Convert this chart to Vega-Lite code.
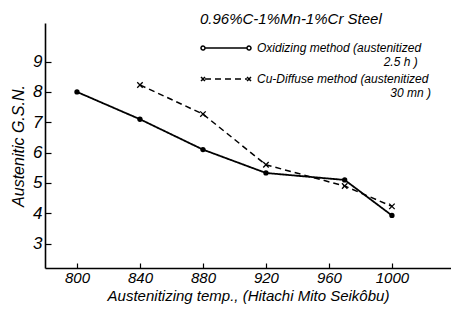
{
  "$schema": "https://vega.github.io/schema/vega-lite/v6.json",
  "width": 406,
  "height": 245,
  "autosize": {"type": "none"},
  "padding": {"left": 45, "top": 23, "right": 0, "bottom": 53},
  "background": "white",
  "config": {
    "view": {"stroke": null},
    "font": "Liberation Sans",
    "axis": {"grid": false, "domainColor": "black", "domainWidth": 1.6, "tickColor": "black", "tickWidth": 1.2, "labelColor": "black", "titleColor": "black", "labelFontStyle": "italic", "titleFontStyle": "italic", "titleFontWeight": "normal"}
  },
  "data": {
    "values": [
      {"temp": 800, "gsn": 8.0, "method": "Oxidizing method"},
      {"temp": 840, "gsn": 7.1, "method": "Oxidizing method"},
      {"temp": 880, "gsn": 6.1, "method": "Oxidizing method"},
      {"temp": 920, "gsn": 5.33, "method": "Oxidizing method"},
      {"temp": 970, "gsn": 5.1, "method": "Oxidizing method"},
      {"temp": 1000, "gsn": 3.93, "method": "Oxidizing method"},
      {"temp": 840, "gsn": 8.23, "method": "Cu-Diffuse method"},
      {"temp": 880, "gsn": 7.27, "method": "Cu-Diffuse method"},
      {"temp": 920, "gsn": 5.6, "method": "Cu-Diffuse method"},
      {"temp": 970, "gsn": 4.9, "method": "Cu-Diffuse method"},
      {"temp": 1000, "gsn": 4.23, "method": "Cu-Diffuse method"}
    ]
  },
  "encoding": {
    "x": {"field": "temp", "type": "quantitative", "scale": {"domain": [779.7, 1037.5], "nice": false, "zero": false},
      "axis": {"values": [800, 840, 880, 920, 960, 1000], "format": "d", "tickSize": -5, "labelPadding": 7, "labelFontSize": 15, "title": "Austenitizing  temp., (Hitachi Mito Seikôbu)", "titleFontSize": 15, "titlePadding": 3}},
    "y": {"field": "gsn", "type": "quantitative", "scale": {"domain": [2.2, 10.27], "nice": false, "zero": false},
      "axis": {"values": [3, 4, 5, 6, 7, 8, 9], "tickSize": -6, "labelPadding": 9, "labelFontSize": 17, "title": "Austenitic  G.S.N.", "titleFontSize": 16, "titlePadding": 6}}
  },
  "layer": [
    {
      "mark": {"type": "line", "color": "black", "strokeWidth": 1.8},
      "transform": [{"filter": "datum.method == 'Oxidizing method'"}],
      "encoding": {
        "strokeDash": {"field": "method", "type": "nominal",
          "scale": {"domain": ["Oxidizing method", "Cu-Diffuse method"], "range": [[1, 0], [6, 4]]},
          "legend": {
            "title": "0.96%C-1%Mn-1%Cr  Steel", "titleFontSize": 15, "titleFontStyle": "italic", "titleFontWeight": "normal", "titleColor": "black", "titlePadding": 10, "titleLimit": 400,
            "orient": "none", "legendX": 155, "legendY": -11,
            "symbolSize": 400, "symbolStrokeColor": "black", "symbolStrokeWidth": 1.5, "symbolType": "stroke",
            "labelFontSize": 12, "labelFontStyle": "italic", "labelColor": "black", "labelOffset": 35, "labelLimit": 300, "rowPadding": -2,
            "labelExpr": "datum.value == 'Oxidizing method' ? ['Oxidizing method (austenitized', '\u200b\u00a0\u00a0\u00a0\u00a0\u00a0\u00a0\u00a0\u00a0\u00a0\u00a0\u00a0\u00a0\u00a0\u00a0\u00a0\u00a0\u00a0\u00a0\u00a0\u00a0\u00a0\u00a0\u00a0\u00a0\u00a0\u00a0\u00a0\u00a0\u00a0\u00a0\u00a0\u00a0\u00a0\u00a0\u00a0\u00a0\u00a0\u00a02.5 h )'] : ['Cu-Diffuse method (austenitized', '\u200b\u00a0\u00a0\u00a0\u00a0\u00a0\u00a0\u00a0\u00a0\u00a0\u00a0\u00a0\u00a0\u00a0\u00a0\u00a0\u00a0\u00a0\u00a0\u00a0\u00a0\u00a0\u00a0\u00a0\u00a0\u00a0\u00a0\u00a0\u00a0\u00a0\u00a0\u00a0\u00a0\u00a0\u00a0\u00a0\u00a0\u00a0\u00a0\u00a0\u00a030 mn )']",
            "encode": {"symbols": {"update": {"shape": {"signal": "datum.value == 'Oxidizing method' ? 'M-0.6,0L3.6,0M-0.6,0A0.2,0.2 0 1 0 -1,0A0.2,0.2 0 1 0 -0.6,0M4,0A0.2,0.2 0 1 0 3.6,0A0.2,0.2 0 1 0 4,0' : 'M-0.6,0L3.6,0M-1,-0.2L-0.6,0.2M-1,0.2L-0.6,-0.2M3.6,-0.2L4,0.2M3.6,0.2L4,-0.2'"}}}}
          }}
      }
    },
    {
      "mark": {"type": "line", "color": "black", "strokeWidth": 1.5},
      "transform": [{"filter": "datum.method == 'Cu-Diffuse method'"}],
      "encoding": {
        "strokeDash": {"field": "method", "type": "nominal"}
      }
    },
    {
      "mark": {"type": "point", "shape": "circle", "filled": true, "color": "black", "opacity": 1, "size": 28},
      "transform": [{"filter": "datum.method == 'Oxidizing method'"}]
    },
    {
      "mark": {"type": "point", "shape": "M-1,-1L1,1M-1,1L1,-1", "filled": false, "color": "black", "strokeWidth": 1.3, "opacity": 1, "size": 30},
      "transform": [{"filter": "datum.method == 'Cu-Diffuse method'"}]
    }
  ]
}
